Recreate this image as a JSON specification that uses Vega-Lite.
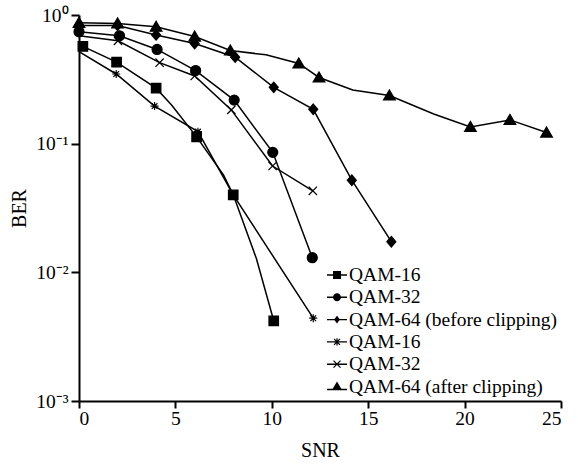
{
  "$schema": "https://vega.github.io/schema/vega-lite/v6.json",
  "width": 482,
  "height": 386,
  "autosize": {"type": "none"},
  "padding": {"left": 79, "top": 15, "right": 17, "bottom": 63},
  "background": "white",
  "config": {
    "view": {"stroke": null},
    "font": "Liberation Serif",
    "axis": {
      "grid": false,
      "domainColor": "black",
      "domainWidth": 2,
      "tickColor": "black",
      "tickWidth": 2,
      "labelFont": "Liberation Serif",
      "labelFontSize": 19.5,
      "labelColor": "black",
      "titleFont": "Liberation Serif",
      "titleFontSize": 20,
      "titleFontWeight": "normal",
      "titleColor": "black"
    },
    "legend": {
      "orient": "none",
      "legendX": 248,
      "legendY": 250,
      "padding": 0,
      "symbolSize": 400,
      "labelFont": "Liberation Serif",
      "labelFontSize": 19.5,
      "labelColor": "black",
      "labelOffset": 2,
      "rowPadding": 2.3,
      "labelLimit": 400
    }
  },
  "data": {
    "values": [
      {"s": "QAM-16|a", "x": 0.2, "y": 0.57, "m": 1},
      {"s": "QAM-16|a", "x": 1.95, "y": 0.43, "m": 1},
      {"s": "QAM-16|a", "x": 4.0, "y": 0.27, "m": 1},
      {"s": "QAM-16|a", "x": 4.8, "y": 0.2, "m": 0},
      {"s": "QAM-16|a", "x": 6.1, "y": 0.113, "m": 1},
      {"s": "QAM-16|a", "x": 7.5, "y": 0.057, "m": 0},
      {"s": "QAM-16|a", "x": 8.0, "y": 0.04, "m": 1},
      {"s": "QAM-16|a", "x": 9.2, "y": 0.0128, "m": 0},
      {"s": "QAM-16|a", "x": 10.1, "y": 0.0042, "m": 1},

      {"s": "QAM-32|a", "x": 0, "y": 0.74, "m": 1},
      {"s": "QAM-32|a", "x": 2.1, "y": 0.69, "m": 1},
      {"s": "QAM-32|a", "x": 4.05, "y": 0.54, "m": 1},
      {"s": "QAM-32|a", "x": 6.05, "y": 0.37, "m": 1},
      {"s": "QAM-32|a", "x": 8.05, "y": 0.218, "m": 1},
      {"s": "QAM-32|a", "x": 10.05, "y": 0.0856, "m": 1},
      {"s": "QAM-32|a", "x": 12.1, "y": 0.013, "m": 1},

      {"s": "QAM-64 (before clipping)", "x": 0, "y": 0.83, "m": 1},
      {"s": "QAM-64 (before clipping)", "x": 2, "y": 0.83, "m": 1},
      {"s": "QAM-64 (before clipping)", "x": 4, "y": 0.7, "m": 1},
      {"s": "QAM-64 (before clipping)", "x": 6, "y": 0.6, "m": 1},
      {"s": "QAM-64 (before clipping)", "x": 8.1, "y": 0.47, "m": 1},
      {"s": "QAM-64 (before clipping)", "x": 10.1, "y": 0.274, "m": 1},
      {"s": "QAM-64 (before clipping)", "x": 12.15, "y": 0.185, "m": 1},
      {"s": "QAM-64 (before clipping)", "x": 14.15, "y": 0.052, "m": 1},
      {"s": "QAM-64 (before clipping)", "x": 16.2, "y": 0.0173, "m": 1},

      {"s": "QAM-16|b", "x": 0, "y": 0.52, "m": 0},
      {"s": "QAM-16|b", "x": 1.93, "y": 0.348, "m": 1},
      {"s": "QAM-16|b", "x": 3.92, "y": 0.196, "m": 1},
      {"s": "QAM-16|b", "x": 6.17, "y": 0.124, "m": 1},
      {"s": "QAM-16|b", "x": 8.0, "y": 0.04, "m": 1},
      {"s": "QAM-16|b", "x": 12.15, "y": 0.0044, "m": 1},

      {"s": "QAM-32|b", "x": 0, "y": 0.69, "m": 0},
      {"s": "QAM-32|b", "x": 2.02, "y": 0.63, "m": 1},
      {"s": "QAM-32|b", "x": 4.18, "y": 0.426, "m": 1},
      {"s": "QAM-32|b", "x": 6.0, "y": 0.336, "m": 1},
      {"s": "QAM-32|b", "x": 7.9, "y": 0.183, "m": 1},
      {"s": "QAM-32|b", "x": 10.04, "y": 0.067, "m": 1},
      {"s": "QAM-32|b", "x": 12.13, "y": 0.043, "m": 1},

      {"s": "QAM-64 (after clipping)", "x": 0, "y": 0.87, "m": 1},
      {"s": "QAM-64 (after clipping)", "x": 2, "y": 0.86, "m": 1},
      {"s": "QAM-64 (after clipping)", "x": 4, "y": 0.81, "m": 1},
      {"s": "QAM-64 (after clipping)", "x": 6, "y": 0.68, "m": 1},
      {"s": "QAM-64 (after clipping)", "x": 7.85, "y": 0.53, "m": 1},
      {"s": "QAM-64 (after clipping)", "x": 9.7, "y": 0.49, "m": 0},
      {"s": "QAM-64 (after clipping)", "x": 11.4, "y": 0.42, "m": 1},
      {"s": "QAM-64 (after clipping)", "x": 12.45, "y": 0.327, "m": 1},
      {"s": "QAM-64 (after clipping)", "x": 14.2, "y": 0.261, "m": 0},
      {"s": "QAM-64 (after clipping)", "x": 16.1, "y": 0.237, "m": 1},
      {"s": "QAM-64 (after clipping)", "x": 18.4, "y": 0.17, "m": 0},
      {"s": "QAM-64 (after clipping)", "x": 20.3, "y": 0.135, "m": 1},
      {"s": "QAM-64 (after clipping)", "x": 22.35, "y": 0.153, "m": 1},
      {"s": "QAM-64 (after clipping)", "x": 24.25, "y": 0.122, "m": 1}
    ]
  },
  "layer": [
    {
      "mark": {"type": "line", "color": "black", "strokeWidth": 1.5},
      "encoding": {
        "x": {"field": "x", "type": "quantitative", "scale": {"domain": [0, 25], "nice": false},
              "axis": {"values": [0, 5, 10, 15, 20, 25], "tickSize": 7, "labelPadding": 1, "title": "SNR", "titlePadding": 13}},
        "y": {"field": "y", "type": "quantitative", "scale": {"type": "log", "domain": [0.001, 1], "nice": false},
              "axis": {"values": [1, 0.1, 0.01, 0.001], "tickSize": 8, "labelPadding": 3, "title": "BER", "titlePadding": 6,
                       "labelExpr": "datum.value >= 0.9 ? '10⁰' : datum.value >= 0.09 ? '10⁻¹' : datum.value >= 0.009 ? '10⁻²' : '10⁻³'"}},
        "detail": {"field": "s", "type": "nominal"}
      }
    },
    {
      "transform": [{"filter": "datum.m == 1"}],
      "mark": {"type": "point", "filled": true, "fill": "black", "stroke": "black", "strokeWidth": 1.2, "size": 100, "opacity": 1},
      "encoding": {
        "x": {"field": "x", "type": "quantitative"},
        "y": {"field": "y", "type": "quantitative"},
        "shape": {
          "field": "s", "type": "nominal", "legend": null,
          "scale": {
            "domain": ["QAM-16|a", "QAM-32|a", "QAM-64 (before clipping)", "QAM-16|b", "QAM-32|b", "QAM-64 (after clipping)"],
            "range": [
              "M-0.95,-0.95H0.95V0.95H-0.95Z",
              "circle",
              "M0,-1.05L0.9,0L0,1.05L-0.9,0Z",
              "M-0.8,0H0.8M0,-0.8V0.8M-0.57,-0.57L0.57,0.57M-0.57,0.57L0.57,-0.57",
              "M-0.83,-0.83L0.83,0.83M-0.83,0.83L0.83,-0.83",
              "M0,-1.1L1.17,0.9L-1.17,0.9Z"
            ]
          }
        }
      }
    },
    {
      "transform": [{"filter": "datum.x < -100"}],
      "mark": {"type": "point", "filled": true, "fill": "black", "opacity": 1},
      "encoding": {
        "x": {"field": "x", "type": "quantitative"},
        "y": {"field": "y", "type": "quantitative"},
        "shape": {
          "field": "s", "type": "nominal",
          "legend": {
            "title": null,
            "labelExpr": "split(datum.label, '|')[0]",
            "symbolFillColor": "black",
            "symbolStrokeWidth": 0
          },
          "scale": {
            "domain": ["QAM-16|a", "QAM-32|a", "QAM-64 (before clipping)", "QAM-16|b", "QAM-32|b", "QAM-64 (after clipping)"],
            "range": [
              "M-1,-0.07H1V0.07H-1ZM-0.4,-0.4H0.4V0.4H-0.4Z",
              "M-1,-0.07H1V0.07H-1ZM0.4,0A0.4,0.4,0,1,1,-0.4,0A0.4,0.4,0,1,1,0.4,0Z",
              "M-1,-0.07H1V0.07H-1ZM0,-0.38L0.3,0L0,0.38L-0.3,0Z",
              "M-1,-0.07H1V0.07H-1ZM-0.06,-0.36H0.06V0.36H-0.06ZM-0.258,-0.342L0.342,0.258L0.258,0.342L-0.342,-0.258ZM-0.342,0.258L0.258,-0.342L0.342,-0.258L-0.258,0.342Z",
              "M-1,-0.07H1V0.07H-1ZM-0.308,-0.392L0.392,0.308L0.308,0.392L-0.392,-0.308ZM-0.392,0.308L0.308,-0.392L0.392,-0.308L-0.308,0.392Z",
              "M-1,0.23H1V0.37H-1ZM0,-0.5L0.52,0.37L-0.52,0.37Z"
            ]
          }
        }
      }
    }
  ],
  "resolve": {"scale": {"shape": "independent"}, "legend": {"shape": "independent"}}
}
